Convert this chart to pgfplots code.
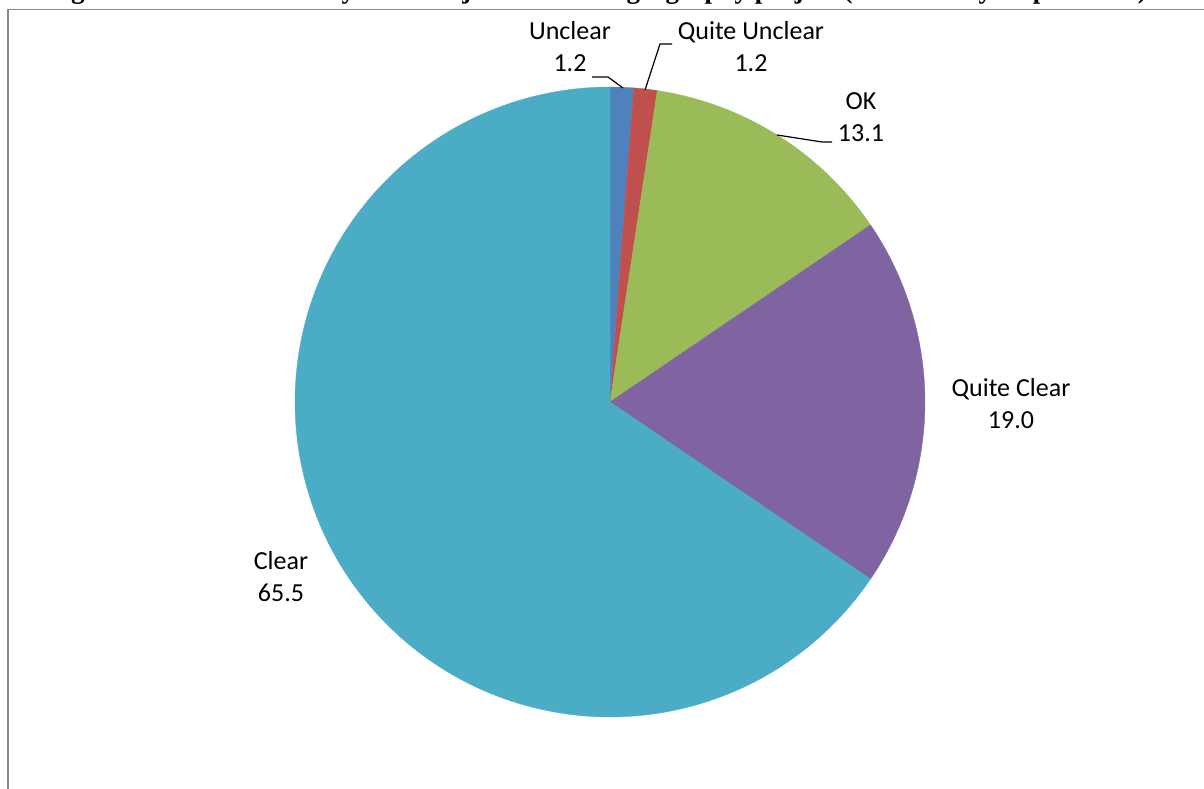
\documentclass[border=0pt]{standalone}
\usepackage{fontspec}
\setmainfont{Carlito}
\newfontfamily\titlefont{Liberation Serif}
\usepackage{pgfplots}
\pgfplotsset{compat=1.18}
\usepackage{pgfplotstable}

\definecolor{cUnclear}{HTML}{4F81BD}
\definecolor{cQUnclear}{HTML}{C0504D}
\definecolor{cOK}{HTML}{9BBB59}
\definecolor{cQClear}{HTML}{8064A2}
\definecolor{cClear}{HTML}{4BACC6}
\definecolor{frame}{HTML}{878787}

\pgfplotstableread[col sep=comma]{
label,value
Unclear,1.2
Quite Unclear,1.2
OK,13.1
Quite Clear,19.0
Clear,65.5
}\piedata

\begin{document}
\begin{tikzpicture}
\pgfplotstablegetelem{0}{value}\of\piedata \pgfmathsetmacro{\vA}{\pgfplotsretval}
\pgfplotstablegetelem{1}{value}\of\piedata \pgfmathsetmacro{\vB}{\pgfplotsretval}
\pgfplotstablegetelem{2}{value}\of\piedata \pgfmathsetmacro{\vC}{\pgfplotsretval}
\pgfplotstablegetelem{3}{value}\of\piedata \pgfmathsetmacro{\vD}{\pgfplotsretval}
\pgfplotstablegetelem{4}{value}\of\piedata \pgfmathsetmacro{\vE}{\pgfplotsretval}
\pgfmathsetmacro{\tA}{90}
\pgfmathsetmacro{\tB}{\tA-3.6*\vA}
\pgfmathsetmacro{\tC}{\tB-3.6*\vB}
\pgfmathsetmacro{\tD}{\tC-3.6*\vC}
\pgfmathsetmacro{\tE}{\tD-3.6*\vD}
\pgfmathsetmacro{\tF}{\tE-3.6*\vE}
\begin{axis}[
  at={(0,0)}, anchor=south west,
  scale only axis, width=1204pt, height=789pt,
  xmin=0, xmax=1204, ymin=0, ymax=789,
  hide axis, clip=false,
]
\addplot[fill=cUnclear, draw=cUnclear, line width=0.3pt, domain=\tB:\tA, samples=8, variable=\t]
  ({610+315*cos(\t)},{387+315*sin(\t)}) -- (axis cs:610,387) -- cycle;
\addplot[fill=cQUnclear, draw=cQUnclear, line width=0.3pt, domain=\tC:\tB, samples=8, variable=\t]
  ({610+315*cos(\t)},{387+315*sin(\t)}) -- (axis cs:610,387) -- cycle;
\addplot[fill=cOK, draw=cOK, line width=0.3pt, domain=\tD:\tC, samples=60, variable=\t]
  ({610+315*cos(\t)},{387+315*sin(\t)}) -- (axis cs:610,387) -- cycle;
\addplot[fill=cQClear, draw=cQClear, line width=0.3pt, domain=\tE:\tD, samples=80, variable=\t]
  ({610+315*cos(\t)},{387+315*sin(\t)}) -- (axis cs:610,387) -- cycle;
\addplot[fill=cClear, draw=cClear, line width=0.3pt, domain=\tF:\tE, samples=240, variable=\t]
  ({610+315*cos(\t)},{387+315*sin(\t)}) -- (axis cs:610,387) -- cycle;

% frame
\draw[frame, line width=1.4pt] (axis cs:8,-10) -- (axis cs:8,779.5) -- (axis cs:1214,779.5);

% title (cropped at the top as in the reference)
\node[anchor=base, font=\titlefont\bfseries\fontsize{27}{30}\selectfont, inner sep=0pt]
  at (axis cs:597,790.5) {Figure 9: Perceived clarity of the objectives of the geography project (\% of survey respondents)};

% labels
\tikzset{lab/.style={align=center, font=\fontsize{26}{32}\selectfont, inner sep=0pt}}
\node[lab] at (axis cs:570,742) {Unclear\\1.2};
\node[lab] at (axis cs:751,742) {Quite Unclear\\1.2};
\node[lab] at (axis cs:861,672) {OK\\13.1};
\node[lab] at (axis cs:1011,385) {Quite Clear\\19.0};
\node[lab] at (axis cs:281,212) {Clear\\65.5};

% leader lines
\draw[black, line width=1.2pt] (axis cs:592,712) -- (axis cs:608,712) -- (axis cs:623,701);
\draw[black, line width=1.2pt] (axis cs:672,745) -- (axis cs:660,745) -- (axis cs:645,699);
\draw[black, line width=1.2pt] (axis cs:832,647) -- (axis cs:822,647) -- (axis cs:777,654);
\end{axis}
\pgfresetboundingbox
\useasboundingbox (0,0) rectangle (1204pt,789pt);
\end{tikzpicture}
\end{document}
